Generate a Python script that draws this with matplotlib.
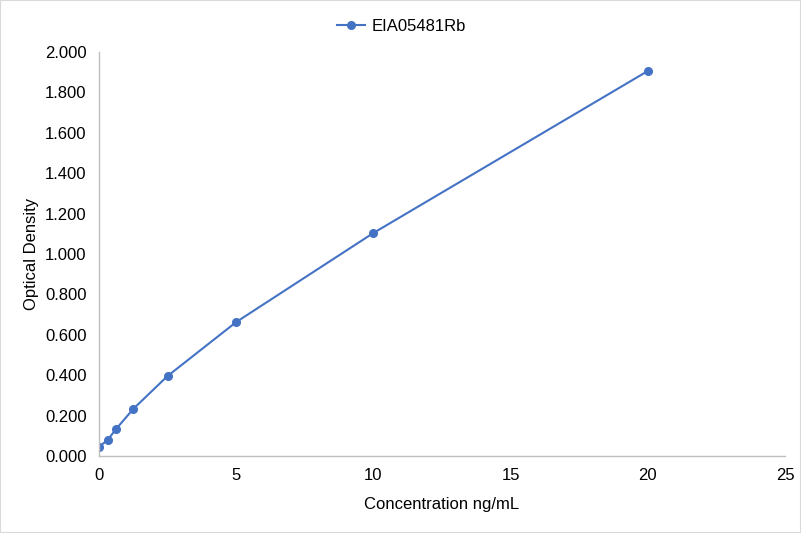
import matplotlib
matplotlib.use("Agg")
import matplotlib.pyplot as plt
from matplotlib.patches import Rectangle

plt.rcParams['font.family'] = ['Liberation Sans', 'DejaVu Sans']

# concentrations (ng/mL) and optical density readings
conc = [0, 0.3125, 0.625, 1.25, 2.5, 5, 10, 20]
od = [0.045, 0.079, 0.134, 0.233, 0.396, 0.663, 1.104, 1.906]
series_name = "EIA05481Rb"

blue = "#4472C4"
grey = "#BFBFBF"

fig = plt.figure(figsize=(8.01, 5.33), dpi=100)
ax = fig.add_axes([0.1236, 0.1445, 0.8564, 0.7579])

ax.plot(conc, od, color=blue, linewidth=1.5, marker="o", markersize=5.5,
        label=series_name)

ax.set_xlim(0, 25)
ax.set_ylim(0, 2.0)
ax.set_xticks([0, 5, 10, 15, 20, 25])
ax.set_yticks([i * 0.2 for i in range(11)])
ax.set_yticklabels([f"{i * 0.2:.3f}" for i in range(11)])

for side in ["top", "right"]:
    ax.spines[side].set_visible(False)
for side in ["left", "bottom"]:
    ax.spines[side].set_color(grey)
    ax.spines[side].set_linewidth(1)

ax.tick_params(axis="both", length=0, labelsize=12, colors="#000000", pad=9)
ax.tick_params(axis="x", pad=9)

ax.set_xlabel("Concentration ng/mL", fontsize=12, labelpad=10)
ax.set_ylabel("Optical Density", fontsize=12, labelpad=4)

ax.legend(loc="upper center", bbox_to_anchor=(0.441, 1.12), frameon=False,
          fontsize=12, handlelength=1.7, handletextpad=0.4)

# thin border around the whole picture
fig.patches.append(Rectangle((0, 0), 1, 1, transform=fig.transFigure,
                             fill=False, edgecolor="#D9D9D9", linewidth=1.5))

fig.savefig("out.png", dpi=100)
